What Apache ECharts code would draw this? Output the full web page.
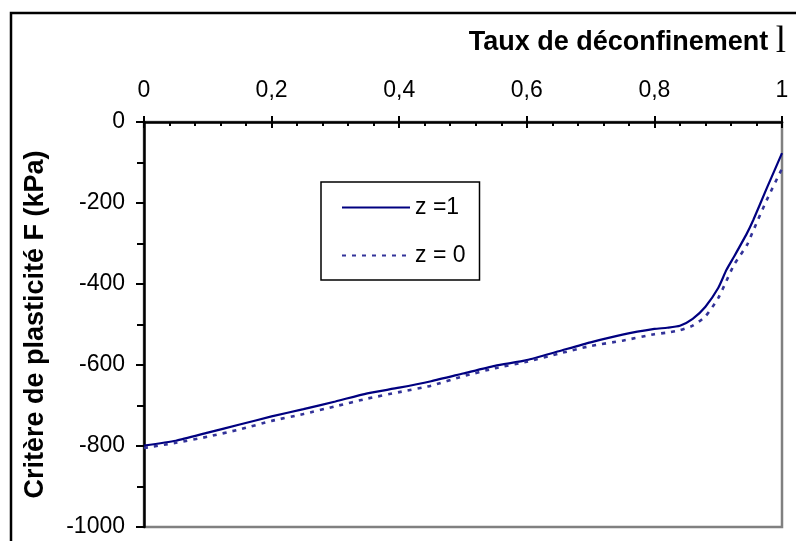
<!DOCTYPE html>
<html>
<head>
<meta charset="utf-8">
<script src="https://cdn.jsdelivr.net/npm/echarts@6/dist/echarts.min.js"></script>
<style>
html,body{margin:0;padding:0;background:#fff;}
#c{width:796px;height:541px;}
</style>
</head>
<body>
<div id="c"></div>
<script>
// Data
const lambda = [0, 0.05, 0.1, 0.15, 0.2, 0.25, 0.3, 0.35, 0.4, 0.45, 0.5, 0.55, 0.6, 0.65, 0.7, 0.75, 0.8, 0.82, 0.84, 0.86, 0.88, 0.9, 0.913, 0.925, 0.945, 0.955, 0.976, 1.0];
const z1 = [-799, -787, -767, -747, -727, -709, -690, -670, -656, -640, -621, -602, -588, -566, -544, -525, -511, -508, -503, -486, -456, -410, -365, -332, -275, -242, -164, -77];
const z0 = [-805, -792, -777, -759, -738, -721, -702, -683, -667, -651, -628, -608, -592, -572, -553, -540, -524, -520, -514, -503, -480, -435, -392, -352, -304, -268, -193, -115];
const seriesNames = ['z =1', 'z = 0'];
const xTicks = [0, 0.2, 0.4, 0.6, 0.8, 1];
const yTicks = [0, -200, -400, -600, -800, -1000];
const xTitle = 'Taux de déconfinement ';
const xTitleSymbol = 'l';
const yTitle = 'Critère de plasticité F (kPa)';

const pair = (xs, ys) => xs.map((x, i) => [x, ys[i]]);
const fmtX = v => String(+(+v).toFixed(1)).replace('.', ',');
const fmtY = v => String(Math.round(v));

const chart = echarts.init(document.getElementById('c'), null, {renderer: 'canvas'});
const FONT = 'Liberation Sans, Arial, sans-serif';
const baseX = {
  type: 'value', position: 'top', min: xTicks[0], max: xTicks[xTicks.length - 1], interval: 0.2,
  gridIndex: 0
};
chart.setOption({
  animation: false,
  backgroundColor: '#fff',
  title: {
    text: xTitle + '{l|' + xTitleSymbol + '}',
    right: 10, top: 24, padding: 0,
    textStyle: {
      fontFamily: FONT, fontWeight: 'bold', fontSize: 27, color: '#000',
      rich: { l: { fontFamily: 'Liberation Serif, Times New Roman, serif', fontSize: 37, fontWeight: 'normal', color: '#000' } }
    }
  },
  grid: {
    left: 144, top: 122, right: 14, bottom: 14,
    show: true, borderColor: '#808080', borderWidth: 2.5, backgroundColor: 'transparent'
  },
  legend: {
    left: 321, top: 182,
    orient: 'vertical',
    itemWidth: 68, itemHeight: 14, itemGap: 25,
    padding: [14, 14, 13, 20],
    borderColor: '#000', borderWidth: 1.5,
    backgroundColor: '#fff',
    itemStyle: { opacity: 0 },
    textStyle: { fontFamily: FONT, fontSize: 23, color: '#000' },
    data: seriesNames
  },
  xAxis: [
    Object.assign({}, baseX, {
      axisLine: { show: true, lineStyle: { color: '#000', width: 2.5 } },
      axisTick: { show: true, inside: true, length: 6, lineStyle: { color: '#000', width: 2 } },
      minorTick: { show: true, splitNumber: 5, length: 4, lineStyle: { color: '#000', width: 2 } },
      axisLabel: { show: true, margin: 20, fontFamily: FONT, fontSize: 23, color: '#000', formatter: fmtX },
      splitLine: { show: false }
    }),
    Object.assign({}, baseX, {
      axisLine: { show: false },
      axisTick: { show: true, inside: false, length: 6, lineStyle: { color: '#000', width: 2 } },
      axisLabel: { show: false },
      splitLine: { show: false }
    })
  ],
  yAxis: {
    type: 'value', min: yTicks[yTicks.length - 1], max: yTicks[0], interval: 200,
    name: yTitle, nameLocation: 'middle', nameRotate: 90, nameGap: 95,
    nameTextStyle: { fontFamily: FONT, fontWeight: 'bold', fontSize: 27, color: '#000' },
    axisLine: { show: true, lineStyle: { color: '#000', width: 2.5 } },
    axisTick: { show: true, inside: false, length: 8, lineStyle: { color: '#000', width: 2 } },
    minorTick: { show: true, splitNumber: 2, length: 7, lineStyle: { color: '#000', width: 2 } },
    axisLabel: { margin: 19, fontFamily: FONT, fontSize: 23, color: '#000', formatter: fmtY },
    splitLine: { show: false }
  },
  graphic: [{
    type: 'rect', silent: true, z: 100,
    shape: { x: 11, y: 13, width: 820, height: 600 },
    style: { fill: 'none', stroke: '#000', lineWidth: 2.5 }
  }],
  series: [
    {
      name: seriesNames[0], type: 'line', xAxisIndex: 0, data: pair(lambda, z1),
      symbol: 'none', smooth: 0.2,
      lineStyle: { color: '#000080', width: 2.2, type: 'solid' },
      itemStyle: { color: '#000080' }
    },
    {
      name: seriesNames[1], type: 'line', xAxisIndex: 0, data: pair(lambda, z0),
      symbol: 'none', smooth: 0.2,
      lineStyle: { color: '#333399', width: 2.6, type: [4, 6] },
      itemStyle: { color: '#333399' }
    }
  ]
});
</script>
</body>
</html>
